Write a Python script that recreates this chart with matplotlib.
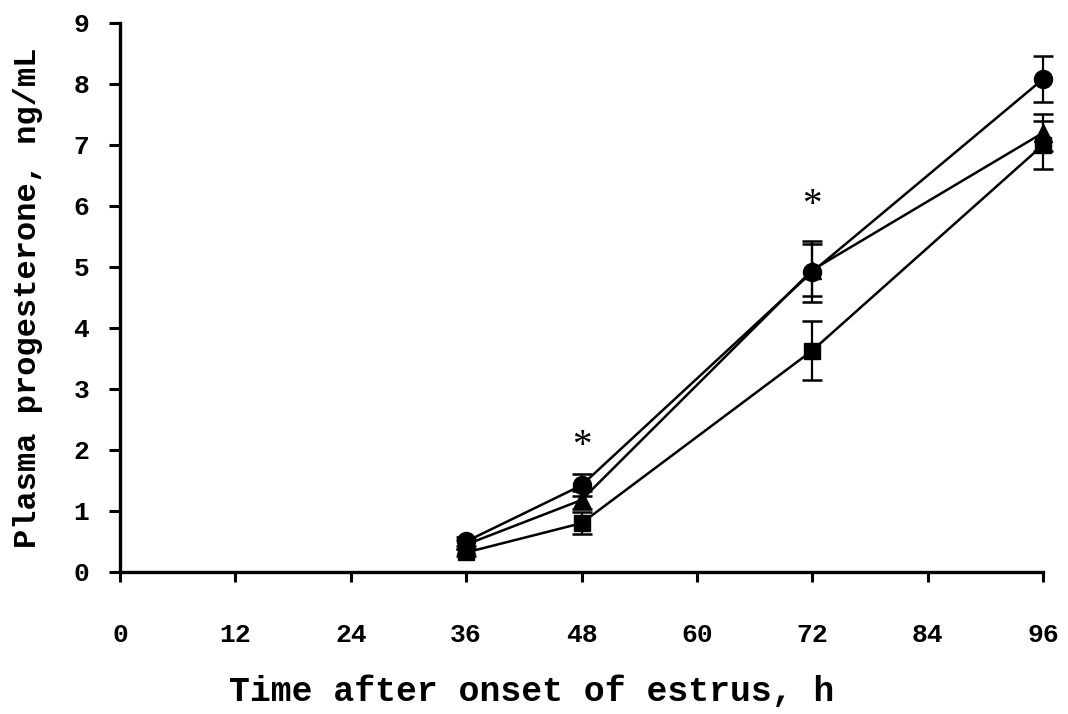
import matplotlib
matplotlib.use("Agg")
import matplotlib.pyplot as plt

hours = [36, 48, 72, 96]

circle_mean = [0.50, 1.42, 4.92, 8.08]
circle_sem = [0.08, 0.18, 0.50, 0.38]

triangle_mean = [0.45, 1.18, 4.95, 7.20]
triangle_sem = [0.07, 0.15, 0.42, 0.30]

square_mean = [0.32, 0.80, 3.63, 7.00]
square_sem = [0.06, 0.18, 0.48, 0.40]

star_hours = [48, 72]
star_y = [2.05, 6.0]

mono = {'family': 'Liberation Mono', 'weight': 'bold'}

fig = plt.figure(figsize=(10.68, 7.14), dpi=100)
ax = fig.add_axes([0.1124, 0.1989, 0.8642, 0.7689])

series = [(circle_mean, circle_sem, 'o', 13),
          (triangle_mean, triangle_sem, '^', 13),
          (square_mean, square_sem, 's', 12)]
for mean, sem, mk, ms in series:
    ax.errorbar(hours, mean, yerr=sem, color='black', marker=mk, markersize=ms,
                linewidth=1.8, elinewidth=1.6, capsize=7, capthick=1.8,
                clip_on=False, zorder=3)

# significance marks
for h, y in zip(star_hours, star_y):
    ax.text(h, y, '*', ha='center', va='center', fontsize=28,
            family='Liberation Serif', color='black')

ax.set_xlim(0, 96)
ax.set_ylim(0, 9)
ax.set_xticks(range(0, 97, 12))
ax.set_yticks(range(0, 10))

for side in ['top', 'right']:
    ax.spines[side].set_visible(False)
for side in ['left', 'bottom']:
    ax.spines[side].set_linewidth(2.4)

ax.tick_params(axis='x', direction='out', length=7, width=2.2, pad=30)
ax.tick_params(axis='y', direction='out', length=8, width=2.2, pad=14)
for lab in ax.get_xticklabels() + ax.get_yticklabels():
    lab.set_fontfamily('Liberation Mono')
    lab.set_fontweight('bold')
    lab.set_fontsize(19)

ax.set_xlabel('Time after onset of estrus, h', fontsize=25, **mono)
ax.xaxis.set_label_coords(0.446, -0.187)
ax.set_ylabel('Plasma progesterone, ng/mL', fontsize=23, labelpad=22, **mono)

fig.savefig('out.png', dpi=100)
